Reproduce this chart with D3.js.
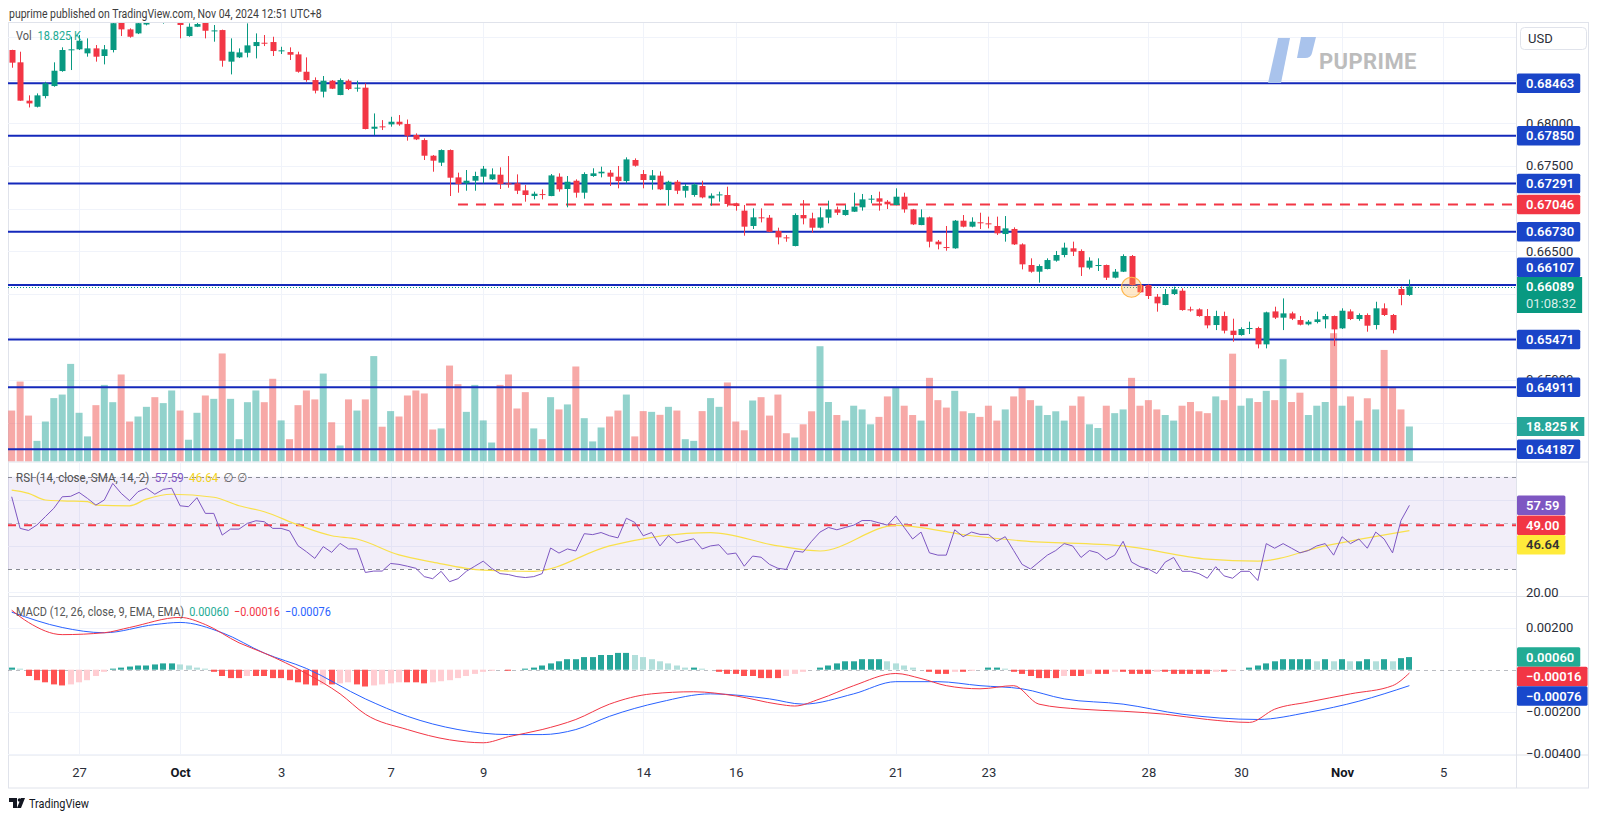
<!DOCTYPE html>
<html><head><meta charset="utf-8">
<script src="https://cdn.jsdelivr.net/npm/d3@7"></script>
<style>html,body{margin:0;padding:0;background:#fff;}svg{display:block;}</style>
</head><body>
<svg id="c" width="1600" height="819"></svg>
<script>
// ---------------- DATA ----------------
const opens = [0.68852,0.68708,0.68260,0.68189,0.68314,0.68431,0.68606,0.68852,0.68860,0.68813,0.68871,0.68782,0.68852,0.69170,0.69093,0.69046,0.69150,0.69260,0.69200,0.69250,0.69220,0.69015,0.69124,0.69180,0.69073,0.69085,0.68716,0.68766,0.68820,0.68898,0.68937,0.68945,0.68840,0.68828,0.68801,0.68598,0.68501,0.68365,0.68493,0.68326,0.68493,0.68404,0.68412,0.67932,0.67960,0.67983,0.68014,0.67987,0.67859,0.67800,0.67617,0.67536,0.67683,0.67364,0.67294,0.67325,0.67372,0.67341,0.67395,0.67294,0.67294,0.67212,0.67146,0.67169,0.67146,0.67372,0.67228,0.67325,0.67185,0.67380,0.67411,0.67419,0.67372,0.67321,0.67567,0.67403,0.67333,0.67384,0.67216,0.67313,0.67208,0.67158,0.67263,0.67119,0.67154,0.67158,0.67060,0.66975,0.66796,0.66897,0.66893,0.66737,0.66663,0.66562,0.66924,0.66885,0.66776,0.66893,0.66990,0.66924,0.66963,0.67014,0.67107,0.67119,0.67080,0.67041,0.67138,0.66990,0.66807,0.66897,0.66613,0.66550,0.66535,0.66858,0.66788,0.66839,0.66827,0.66796,0.66702,0.66761,0.66581,0.66340,0.66262,0.66293,0.66391,0.66457,0.66535,0.66504,0.66309,0.66332,0.66340,0.66192,0.66262,0.66445,0.66106,0.66106,0.65970,0.65873,0.66001,0.66040,0.65822,0.65822,0.65744,0.65639,0.65744,0.65573,0.65522,0.65592,0.65604,0.65413,0.65798,0.65725,0.65775,0.65697,0.65647,0.65674,0.65705,0.65744,0.65600,0.65798,0.65709,0.65756,0.65639,0.65834,0.65756,0.66060,0.65990];
const highs = [0.68855,0.68832,0.68322,0.68345,0.68481,0.68708,0.68883,0.69007,0.69027,0.68988,0.68910,0.68910,0.69210,0.69200,0.69105,0.69200,0.69290,0.69330,0.69390,0.69400,0.69280,0.69163,0.69180,0.69230,0.69144,0.69090,0.68988,0.68871,0.69163,0.69046,0.69027,0.69007,0.68890,0.68883,0.68832,0.68766,0.68532,0.68548,0.68501,0.68520,0.68509,0.68493,0.68462,0.68111,0.68033,0.68072,0.68092,0.68040,0.67878,0.67820,0.67625,0.67691,0.67690,0.67419,0.67450,0.67430,0.67497,0.67469,0.67481,0.67613,0.67399,0.67274,0.67197,0.67224,0.67403,0.67411,0.67380,0.67341,0.67423,0.67470,0.67489,0.67450,0.67497,0.67598,0.67586,0.67450,0.67450,0.67434,0.67325,0.67333,0.67286,0.67294,0.67325,0.67177,0.67197,0.67255,0.67068,0.67041,0.67002,0.67002,0.66924,0.66776,0.66690,0.66943,0.67099,0.66951,0.67014,0.67092,0.67022,0.67041,0.67185,0.67170,0.67158,0.67197,0.67099,0.67236,0.67185,0.66995,0.66990,0.66905,0.66632,0.66796,0.66866,0.66924,0.66897,0.66951,0.66905,0.66905,0.66912,0.66780,0.66593,0.66418,0.66348,0.66418,0.66504,0.66601,0.66613,0.66523,0.66430,0.66418,0.66345,0.66293,0.66465,0.66457,0.66118,0.66114,0.66001,0.66060,0.66087,0.66067,0.65853,0.65834,0.65826,0.65806,0.65795,0.65713,0.65612,0.65678,0.65619,0.65795,0.65853,0.65950,0.65795,0.65744,0.65697,0.65795,0.65768,0.65750,0.65834,0.65822,0.65775,0.65775,0.65911,0.65892,0.65768,0.66090,0.66170];
const lows = [0.68645,0.68258,0.68181,0.68181,0.68287,0.68423,0.68598,0.68618,0.68852,0.68774,0.68716,0.68684,0.68824,0.69015,0.68996,0.69038,0.69140,0.69180,0.69160,0.69210,0.68988,0.69007,0.69120,0.68988,0.68949,0.68657,0.68567,0.68758,0.68766,0.68754,0.68898,0.68782,0.68805,0.68735,0.68587,0.68481,0.68345,0.68298,0.68396,0.68324,0.68384,0.68365,0.67925,0.67858,0.67917,0.67956,0.67967,0.67793,0.67800,0.67567,0.67430,0.67497,0.67146,0.67185,0.67208,0.67208,0.67294,0.67333,0.67228,0.67243,0.67169,0.67080,0.67107,0.67107,0.67144,0.67197,0.67014,0.67127,0.67115,0.67370,0.67364,0.67263,0.67236,0.67294,0.67489,0.67236,0.67220,0.67216,0.67033,0.67169,0.67127,0.67138,0.67119,0.67033,0.67080,0.67021,0.66975,0.66683,0.66761,0.66838,0.66725,0.66581,0.66612,0.66558,0.66815,0.66718,0.66768,0.66827,0.66924,0.66916,0.66960,0.66975,0.67061,0.66975,0.66994,0.67038,0.66951,0.66807,0.66805,0.66546,0.66523,0.66507,0.66530,0.66780,0.66780,0.66761,0.66768,0.66691,0.66613,0.66574,0.66289,0.66250,0.66134,0.66289,0.66379,0.66430,0.66445,0.66212,0.66289,0.66270,0.66165,0.66184,0.66258,0.66100,0.66017,0.65943,0.65795,0.65870,0.65990,0.65806,0.65795,0.65736,0.65600,0.65580,0.65541,0.65444,0.65514,0.65534,0.65366,0.65366,0.65709,0.65580,0.65697,0.65635,0.65635,0.65658,0.65600,0.65393,0.65592,0.65697,0.65689,0.65561,0.65588,0.65744,0.65541,0.65870,0.65980];
const closes = [0.68704,0.68260,0.68228,0.68322,0.68462,0.68610,0.68852,0.68860,0.68961,0.68871,0.68774,0.68860,0.69165,0.69093,0.69007,0.69165,0.69260,0.69200,0.69300,0.69330,0.69144,0.69124,0.69155,0.69077,0.69081,0.68727,0.68832,0.68824,0.68906,0.68945,0.68929,0.68840,0.68848,0.68797,0.68598,0.68501,0.68377,0.68493,0.68400,0.68501,0.68396,0.68412,0.67929,0.67956,0.67952,0.68014,0.67983,0.67851,0.67808,0.67617,0.67559,0.67683,0.67360,0.67286,0.67325,0.67380,0.67465,0.67399,0.67286,0.67286,0.67208,0.67158,0.67173,0.67161,0.67387,0.67224,0.67313,0.67185,0.67403,0.67411,0.67430,0.67372,0.67321,0.67574,0.67500,0.67333,0.67387,0.67224,0.67313,0.67208,0.67263,0.67282,0.67130,0.67150,0.67165,0.67053,0.67029,0.66788,0.66897,0.66889,0.66729,0.66663,0.66655,0.66924,0.66885,0.66776,0.66897,0.66990,0.66951,0.66983,0.67022,0.67107,0.67115,0.67080,0.67049,0.67138,0.66990,0.66815,0.66897,0.66613,0.66581,0.66543,0.66858,0.66788,0.66846,0.66831,0.66815,0.66710,0.66768,0.66581,0.66348,0.66262,0.66328,0.66398,0.66457,0.66543,0.66496,0.66313,0.66391,0.66340,0.66192,0.66262,0.66445,0.66106,0.66021,0.65978,0.65892,0.66001,0.66056,0.65814,0.65814,0.65744,0.65635,0.65744,0.65573,0.65522,0.65592,0.65604,0.65413,0.65787,0.65725,0.65775,0.65713,0.65643,0.65678,0.65705,0.65744,0.65588,0.65806,0.65709,0.65756,0.65631,0.65834,0.65756,0.65580,0.65990,0.66089];
const volumesK = [27.4,43.0,24.7,11.1,21.5,34.1,36.0,52.5,26.2,13.5,30.3,41.2,31.9,46.8,21.5,24.2,29.4,34.6,31.4,38.2,27.4,11.7,26.2,35.5,33.7,58.1,33.7,12.0,31.9,38.2,31.9,44.5,22.1,12.0,30.3,38.2,33.4,47.3,21.1,8.6,33.4,27.4,33.4,56.7,18.7,27.1,24.2,35.5,38.2,36.6,17.2,17.8,51.6,41.6,26.7,41.2,22.1,10.2,41.2,46.8,28.5,37.3,17.8,12.0,34.6,28.0,30.7,51.1,23.3,10.8,18.3,24.2,27.4,36.0,13.5,27.1,26.7,25.1,29.4,27.4,12.0,11.1,27.1,34.1,29.4,42.5,21.5,16.8,32.8,34.6,24.7,36.0,15.2,12.9,
20,27,62,32,25,22,30,28,20,24,35,40,30,25,22,45,33,29,38,27,26,24,30,22,28,35,40,33,30,25,27,22,30,35,20,18,30,26,28,45,30,33,28,25,22,30,32,27,26,35,33,58,30,34,32,38,33,55,32,37,25,30,32,69,30,35,22,34,28,60,40,28,18.825];
const rsiValues = [61.3,47.6,46.7,49.1,52.7,56.3,61.3,61.5,63.2,60.6,57.7,59.9,67.1,62.8,59.6,63.5,65.0,62.4,64.5,65.0,57.4,57.0,60.9,54.1,54.1,44.7,47.3,47.3,49.8,50.9,50.5,47.6,47.6,46.5,40.1,37.5,34.6,39.7,37.2,41.1,38.7,38.7,28.5,29.1,29.1,32.4,32.0,
31.2,30.3,26.7,25.8,29,24.5,25.8,29,31.2,33.4,30.3,28,27.6,26.7,26.3,26.7,28,39.1,36.9,38.7,37.8,45.3,44.9,45.8,44.4,43.5,52,50.2,44.4,45.8,40,44.4,41.3,42.2,43.1,38.7,40,40.5,36.4,36.9,31.2,35.6,35.1,32,30.3,29.8,37.8,37.3,
42,46,48,47,48,49,51,51,50,49,53,48,43,46,37,36,36,47,44,46,45,45,42,44,38,32,30,33,36,38,41,40,35,38,37,34,36,42,33,31,30,28,33,35,29,29,28,26,31,27,26,29,29,25,41,39,41,39,37,38,40,41,36,44,41,43,39,46,43,37,51,57.59];
const rsiSmaPts = [[0,64.2],[2,62.8],[4,59.9],[6,59.5],[9,59.2],[10,57.7],[14,57.4],[16,60.3],[19,62.4],[24,61.1],[27,57.4],[30,54.8],[34,49.1],[38,44.4],[41,43.0],[46,36.1],[50,33],[56,29.5],[62,29],[71,40],[83,45.8],[91,40],[96,37.8],[105,48.9],[114,44.4],[120,42.2],[132,40],[142,34.3],[148,33.4],[156,40],[166,46.64]];
const macdPts = [[0,0.00283],[2,0.00225],[6,0.00167],[11,0.00176],[14,0.00201],[20,0.00249],[23,0.00215],[27,0.00128],[30,0.00079],[35,-0.00018],[39,-0.00115],[42,-0.00212],[47,-0.00285],[52,-0.00334],[56,-0.00348],[59,-0.00319],[63,-0.00285],[67,-0.00237],[71,-0.00164],[76,-0.00115],[81,-0.00105],[86,-0.00125],[91,-0.00164],[93,-0.00173],[96,-0.00139],[100,-0.00076],[105,-0.00018],[108,-0.00042],[111,-0.00076],[115,-0.00091],[119,-0.00076],[122,-0.00164],[127,-0.00188],[132,-0.00198],[137,-0.00212],[142,-0.00237],[147,-0.00251],[150,-0.00188],[154,-0.00154],[159,-0.00115],[164,-0.00076],[166,-0.00016]];
const signalPts = [[0,0.00274],[6,0.00201],[11,0.00176],[17,0.00215],[20,0.00225],[25,0.00176],[30,0.00079],[35,0.00006],[42,-0.00139],[47,-0.00222],[53,-0.00285],[59,-0.00309],[63,-0.00309],[67,-0.00285],[71,-0.00222],[77,-0.00154],[83,-0.00115],[90,-0.00139],[94,-0.00164],[100,-0.00115],[105,-0.00057],[110,-0.00057],[115,-0.00076],[120,-0.00091],[125,-0.00139],[132,-0.00164],[139,-0.00212],[148,-0.00237],[154,-0.00203],[160,-0.00150],[166,-0.00076]];
const histValues = [0.0001,0.00005,-0.0003,-0.0005,-0.0006,-0.0007,-0.00075,-0.0007,-0.0006,-0.0005,-0.0003,-0.0001,0.00005,0.0001,0.00015,0.0002,0.0002,0.00025,0.0003,0.0003,0.00025,0.0002,0.0001,0.00005,-0.0001,-0.0003,-0.0004,-0.0004,-0.0003,-0.0003,-0.0003,-0.0004,-0.0004,-0.0005,-0.0006,-0.0007,-0.00075,-0.0007,-0.0007,-0.00065,-0.0006,-0.0007,-0.0008,-0.00075,-0.0007,-0.00065,-0.0006,-0.0006,-0.0006,-0.00065,-0.0006,-0.00055,-0.0005,-0.0004,-0.0003,-0.0002,-0.0001,-0.00005,0,-0.00005,0,0.00005,0.0001,0.0002,0.0003,0.0004,0.0005,0.0005,0.0006,0.0006,0.0007,0.0007,0.0008,0.0008,0.0007,0.0006,0.0005,0.0004,0.0003,0.0002,0.0001,0.0001,0.00005,0,-0.0001,-0.0002,-0.0002,-0.0003,-0.0003,-0.0004,-0.0004,-0.0004,-0.0003,-0.0002,-0.0001,0,0.0001,0.0002,0.0003,0.0004,0.0004,0.0005,0.0005,0.0005,0.0004,0.0003,0.0002,0.0001,0,-0.0001,-0.0002,-0.0002,-0.0001,-0.0001,-0.00005,0,0.0001,0.0001,0.00005,-0.0001,-0.0002,-0.0003,-0.0004,-0.0004,-0.0004,-0.0003,-0.0003,-0.0003,-0.0002,-0.0002,-0.0002,-0.0001,-0.0001,-0.0002,-0.0002,-0.0002,-0.0001,-0.0001,-0.0002,-0.0002,-0.0002,-0.0002,-0.0002,-0.0001,-0.0001,-0.00005,0,0.0001,0.0002,0.0003,0.0004,0.0005,0.0005,0.0005,0.0005,0.0004,0.0005,0.0004,0.0005,0.0004,0.0004,0.0005,0.0004,0.0005,0.0004,0.00055,0.0006];
const levelPrices = [0.68463,0.67850,0.67291,0.66730,0.66107,0.65471,0.64911,0.64187];
const dashedLevel = {price:0.67046, fromIndex:53};
const lastPrice = 0.66089, countdown = "01:08:32";
const lastVolumeLabel = "18.825 K";
const highlight = {index:133, price:0.66080};
const rsiUserLine = 49.00;
const rsiLast = 57.59, rsiSmaLast = 46.64;
const macdLast = {hist:0.00060, macd:-0.00016, signal:-0.00076};
const dateTickIndex = [8,20,32,45,56,75,86,105,116,135,146,158,170];
const dateTickLabels = ["27","Oct","3","7","9","14","16","21","23","28","30","Nov","5"];
const priceGrid = [0.690,0.685,0.680,0.675,0.670,0.665,0.660,0.655,0.650,0.645];
const priceTickLabels = [0.680,0.675,0.665,0.650];
const rsiGrid = [60,40,20];
const rsiTickLabels = [20];
const macdGrid = [0.002,-0.002,-0.004];
const macdTickLabels = [0.002,-0.002,-0.004];
const headerText = "puprime published on TradingView.com, Nov 04, 2024 12:51 UTC+8";

// ---------------- LAYOUT ----------------
const FONT = 'Roboto, "Open Sans", "DejaVu Sans", sans-serif';
const L = 8, R = 1516, RIGHT_EDGE = 1588;
const MAIN = {top:23, bot:461.5}, RSIP = {top:462.5, bot:596}, MACDP = {top:597, bot:755}, AXB = 788;
const UP = "#089981", DN = "#F23645";
const BLUE_LINE = "#1429bb", BLUE_LBL = "#1a45c8";

const svg = d3.select("#c").style("font-family", FONT);
const defs = svg.append("defs");
function clip(id, y0, y1){ defs.append("clipPath").attr("id",id).append("rect").attr("x",L).attr("y",y0).attr("width",R-L).attr("height",y1-y0); }
clip("cMain", MAIN.top, MAIN.bot); clip("cRsi", RSIP.top, RSIP.bot); clip("cMacd", MACDP.top, MACDP.bot);

function legend(x0, y0, width, size){
  const g = svg.append("g");
  const t = g.append("text").attr("x",0).attr("y",0).attr("font-size",size);
  return {t, fit(){ const w=t.node().getComputedTextLength(); g.attr("transform",`translate(${x0},${y0}) scale(${width/w},1)`); }};
}

const n = closes.length;
const x = d3.scaleLinear().domain([0,166]).range([11.7, 1409.4]);
const yP = d3.scaleLinear().domain([0.64187,0.68463]).range([449.3,83.3]);
const yV = d3.scaleLinear().domain([0,18.825]).range([461.5,426.5]);
const yR = d3.scaleLinear().domain([30,70]).range([569,476.7]);
const yM = d3.scaleLinear().domain([-0.002,0.002]).range([711.7,627.7]);

{ const h = legend(9, 18, 313, 13); h.t.attr("fill","#3d3d3d").text(headerText); h.fit(); }

const frame = svg.append("g").attr("stroke","#e0e3eb").attr("fill","none");
frame.append("rect").attr("x",L+0.5).attr("y",MAIN.top-0.5).attr("width",RIGHT_EDGE-L).attr("height",AXB-MAIN.top+0.5);
[RSIP.top-0.5, MACDP.top-0.5, MACDP.bot].forEach(v=>frame.append("line").attr("x1",L).attr("x2",RIGHT_EDGE).attr("y1",v).attr("y2",v));
frame.append("line").attr("x1",R+0.5).attr("x2",R+0.5).attr("y1",MAIN.top).attr("y2",AXB);

const grid = svg.append("g").attr("stroke","#f0f3fa").attr("stroke-width",1);
dateTickIndex.forEach(i=>{ const xx=Math.round(x(i))+0.5; if(xx<R) grid.append("line").attr("x1",xx).attr("x2",xx).attr("y1",MAIN.top).attr("y2",MACDP.bot); });
const gMain = svg.append("g").attr("clip-path","url(#cMain)");
priceGrid.forEach(p=>{ const yy=Math.round(yP(p))+0.5; gMain.append("line").attr("x1",L).attr("x2",R).attr("y1",yy).attr("y2",yy).attr("stroke","#f0f3fa"); });
const gR = svg.append("g").attr("clip-path","url(#cRsi)");
rsiGrid.forEach(v=>{ const yy=Math.round(yR(v))+0.5; gR.append("line").attr("x1",L).attr("x2",R).attr("y1",yy).attr("y2",yy).attr("stroke","#f0f3fa"); });
const gM = svg.append("g").attr("clip-path","url(#cMacd)");
macdGrid.forEach(v=>{ const yy=Math.round(yM(v))+0.5; gM.append("line").attr("x1",L).attr("x2",R).attr("y1",yy).attr("y2",yy).attr("stroke","#f0f3fa"); });

const wm = svg.append("g");
wm.append("path").attr("d","M1278,38 L1290,38 L1281,83 L1268,83 Z").attr("fill","#a9c3ec");
wm.append("path").attr("d","M1301,37 L1316,37 L1312,53 Q1311,58 1305,58 L1297,58 Z").attr("fill","#a9c3ec");
wm.append("text").attr("x",1319).attr("y",68.5).attr("font-size",22).attr("font-weight",700).attr("fill","#bcbcbc").attr("letter-spacing",0.4).text("PUPRIME");

const idx = d3.range(n);
const isUp = i => closes[i] >= opens[i];
gMain.append("g").selectAll("rect").data(idx).join("rect")
  .attr("x", i=>x(i)-3.5).attr("width",7)
  .attr("y", i=>yV(volumesK[i])).attr("height", i=>yV(0)-yV(volumesK[i]))
  .attr("fill", i=> isUp(i) ? "rgba(38,166,154,0.5)" : "rgba(239,83,80,0.5)");

const lv = gMain.append("g");
levelPrices.forEach(p=>lv.append("line").attr("x1",L).attr("x2",R).attr("y1",yP(p)).attr("y2",yP(p)).attr("stroke",BLUE_LINE).attr("stroke-width",2));
lv.append("line").attr("x1",x(dashedLevel.fromIndex)).attr("x2",R).attr("y1",yP(dashedLevel.price)).attr("y2",yP(dashedLevel.price))
  .attr("stroke",DN).attr("stroke-width",2).attr("stroke-dasharray","10 8");
lv.append("line").attr("x1",L).attr("x2",R).attr("y1",Math.round(yP(lastPrice))+0.5).attr("y2",Math.round(yP(lastPrice))+0.5)
  .attr("stroke",UP).attr("stroke-width",1).attr("stroke-dasharray","1 2");

const cg = gMain.append("g");
cg.selectAll("line").data(idx).join("line")
  .attr("x1",i=>Math.round(x(i))+0.5).attr("x2",i=>Math.round(x(i))+0.5)
  .attr("y1",i=>yP(highs[i])).attr("y2",i=>yP(lows[i]))
  .attr("stroke",i=>isUp(i)?UP:DN).attr("stroke-width",1);
cg.selectAll("rect").data(idx).join("rect")
  .attr("x",i=>Math.round(x(i))-2.5).attr("width",6)
  .attr("y",i=>yP(Math.max(opens[i],closes[i])))
  .attr("height",i=>Math.max(1,Math.abs(yP(opens[i])-yP(closes[i]))))
  .attr("fill",i=>isUp(i)?UP:DN);

gMain.append("circle").attr("cx",x(highlight.index)).attr("cy",yP(highlight.price)).attr("r",10)
  .attr("fill","rgba(255,183,77,0.3)").attr("stroke","#ffb74d").attr("stroke-width",1.2);

{ const v = legend(16, 39.5, 59, 13);
  v.t.append("tspan").attr("fill","#555").text("Vol");
  v.t.append("tspan").attr("dx",7).attr("fill","#22ab94").text(lastVolumeLabel); v.fit(); }

// RSI
gR.append("rect").attr("x",L).attr("width",R-L).attr("y",yR(70)).attr("height",yR(30)-yR(70)).attr("fill","rgba(126,87,194,0.1)");
[70,30].forEach(v=>gR.append("line").attr("x1",L).attr("x2",R).attr("y1",Math.round(yR(v))+0.5).attr("y2",Math.round(yR(v))+0.5).attr("stroke","#878a94").attr("stroke-dasharray","4 4"));
gR.append("line").attr("x1",L).attr("x2",R).attr("y1",Math.round(yR(50))+0.5).attr("y2",Math.round(yR(50))+0.5).attr("stroke","rgba(120,123,134,0.45)").attr("stroke-dasharray","4 4");
gR.append("line").attr("x1",L).attr("x2",R).attr("y1",yR(rsiUserLine)).attr("y2",yR(rsiUserLine)).attr("stroke",DN).attr("stroke-width",2).attr("stroke-dasharray","8 8");
gR.append("path").datum(rsiSmaPts).attr("fill","none").attr("stroke","#f9e04b").attr("stroke-width",1.2)
  .attr("d", d3.line().x(d=>x(d[0])).y(d=>yR(d[1])).curve(d3.curveMonotoneX));
gR.append("path").datum(idx).attr("fill","none").attr("stroke","#7E57C2").attr("stroke-width",1)
  .attr("d", d3.line().x(i=>x(i)).y(i=>yR(rsiValues[i])));
{ const r = legend(16, 481.5, 212, 13);
  r.t.append("tspan").attr("fill","#555").text("RSI (14, close, SMA, 14, 2)");
  r.t.append("tspan").attr("dx",6).attr("fill","#7E57C2").text(rsiLast.toFixed(2));
  r.t.append("tspan").attr("dx",6).attr("fill","#f2d21b").text(rsiSmaLast.toFixed(2));
  r.t.append("tspan").attr("dx",6).attr("fill","#666").text("∅");
  r.t.append("tspan").attr("dx",4).attr("fill","#666").text("∅"); r.fit(); }

// MACD
const fmt5 = d3.format(".5f");
const minusFmt = v => fmt5(v).replace("-","−");
gM.append("line").attr("x1",L).attr("x2",R).attr("y1",Math.round(yM(0))+0.5).attr("y2",Math.round(yM(0))+0.5).attr("stroke","rgba(120,123,134,0.5)").attr("stroke-dasharray","4 4");
gM.append("g").selectAll("rect").data(idx).join("rect")
  .attr("x",i=>Math.round(x(i))-3).attr("width",6)
  .attr("y",i=>Math.min(yM(0),yM(histValues[i])))
  .attr("height",i=>Math.abs(yM(histValues[i])-yM(0)))
  .attr("fill",i=>{ const h=histValues[i], p=i>0?histValues[i-1]:h;
     return h>=0 ? (h>=p? "#26A69A":"#B2DFDB") : (h<=p? "#FF5252":"#FFCDD2"); });
gM.append("path").datum(signalPts).attr("fill","none").attr("stroke","#2962FF").attr("stroke-width",1)
  .attr("d", d3.line().x(d=>x(d[0])).y(d=>yM(d[1])).curve(d3.curveMonotoneX));
gM.append("path").datum(macdPts).attr("fill","none").attr("stroke","#F23645").attr("stroke-width",1)
  .attr("d", d3.line().x(d=>x(d[0])).y(d=>yM(d[1])).curve(d3.curveMonotoneX));
{ const m = legend(16, 615.5, 300, 13);
  m.t.append("tspan").attr("fill","#555").text("MACD (12, 26, close, 9, EMA, EMA)");
  m.t.append("tspan").attr("dx",6).attr("fill","#22ab94").text(minusFmt(macdLast.hist));
  m.t.append("tspan").attr("dx",6).attr("fill",DN).text(minusFmt(macdLast.macd));
  m.t.append("tspan").attr("dx",6).attr("fill","#2962FF").text(minusFmt(macdLast.signal)); m.fit(); }

// axes
function styleAxis(g){ g.select(".domain").remove(); g.selectAll("text").attr("font-family",FONT).attr("font-size",13).attr("fill","#2a2e39"); }
svg.append("g").attr("transform",`translate(${R+10},0)`).call(d3.axisRight(yP).tickValues(priceTickLabels).tickSize(0).tickPadding(0).tickFormat(minusFmt)).call(styleAxis);
svg.append("g").attr("transform",`translate(${R+10},0)`).call(d3.axisRight(yR).tickValues(rsiTickLabels).tickSize(0).tickPadding(0).tickFormat(d3.format(".2f"))).call(styleAxis);
svg.append("g").attr("transform",`translate(${R+10},0)`).call(d3.axisRight(yM).tickValues(macdTickLabels).tickSize(0).tickPadding(0).tickFormat(minusFmt)).call(styleAxis);
const xa = svg.append("g").attr("transform",`translate(0,${MACDP.bot+10})`)
  .call(d3.axisBottom(x).tickValues(dateTickIndex).tickSize(0).tickPadding(0).tickFormat((d,i)=>dateTickLabels[i])).call(styleAxis);
xa.selectAll("text").attr("dy","0.9em").attr("font-weight",(d,i)=>/[A-Za-z]/.test(dateTickLabels[i])?700:400).attr("fill",(d,i)=>/[A-Za-z]/.test(dateTickLabels[i])?"#131722":"#2a2e39");

svg.append("rect").attr("x",1520.5).attr("y",27.5).attr("width",66).attr("height",22).attr("rx",4).attr("fill","#fff").attr("stroke","#e0e3eb");
svg.append("text").attr("x",1528).attr("y",43).attr("font-size",13).attr("fill","#2a2e39").text("USD");

function tag(cy, txt, fill, color, h){
  h = h || 19.5;
  const g = svg.append("g");
  const r = g.append("rect").attr("x",R+1).attr("y",cy-h/2).attr("height",h).attr("rx",1.5).attr("fill",fill);
  const t = g.append("text").attr("x",R+10).attr("y",cy+4.6).attr("font-size",13).attr("font-weight",600).attr("fill",color).text(txt);
  r.attr("width", t.node().getComputedTextLength()+15);
  return g;
}
function fitTags(list){
  list.sort((a,b)=>a.y-b.y);
  for(let k=1;k<list.length;k++){ const prev=list[k-1]; if(list[k].y-prev.y<19.5) list[k].y=prev.y+19.5; }
  list.forEach(t=>tag(t.y,t.txt,t.fill,t.color));
}
const yLast = yP(lastPrice);
levelPrices.forEach(p=>{ let cy=yP(p); if(Math.abs(p-lastPrice)<0.0005) cy = yLast-9.5-9.75; tag(cy, fmt5(p), BLUE_LBL, "#fff"); });
tag(yP(dashedLevel.price), fmt5(dashedLevel.price), DN, "#fff");
{ const g=svg.append("g");
  const r=g.append("rect").attr("x",R+1).attr("y",yLast-9.5).attr("height",36).attr("fill",UP);
  g.append("text").attr("x",R+10).attr("y",yLast+4.6).attr("font-size",13).attr("font-weight",600).attr("fill","#fff").text(fmt5(lastPrice));
  const t2=g.append("text").attr("x",R+10).attr("y",yLast+21.5).attr("font-size",13).attr("fill","rgba(255,255,255,0.85)").text(countdown);
  r.attr("width", t2.node().getComputedTextLength()+15); }
{ const g=svg.append("g"); const cy=yV(18.825);
  const r=g.append("rect").attr("x",R+1).attr("y",cy-9.5).attr("height",19).attr("fill","#26a69a");
  const t=g.append("text").attr("x",R+10).attr("y",cy+4.6).attr("font-size",13).attr("font-weight",600).attr("fill","#fff").text(lastVolumeLabel);
  r.attr("width", t.node().getComputedTextLength()+15); }
fitTags([{y:yR(rsiLast),txt:rsiLast.toFixed(2),fill:"#7E57C2",color:"#fff"},{y:yR(rsiUserLine),txt:rsiUserLine.toFixed(2),fill:DN,color:"#fff"},{y:yR(rsiSmaLast),txt:rsiSmaLast.toFixed(2),fill:"#ffeb3b",color:"#333"}]);
fitTags([{y:yM(macdLast.hist),txt:minusFmt(macdLast.hist),fill:"#22ab94",color:"#fff"},{y:yM(macdLast.macd),txt:minusFmt(macdLast.macd),fill:DN,color:"#fff"},{y:yM(macdLast.signal),txt:minusFmt(macdLast.signal),fill:"#1848cc",color:"#fff"}]);

const fl = svg.append("g");
fl.append("path").attr("d","M9,798 h8 v10 h-4 v-6 h-4 Z").attr("fill","#131722");
fl.append("circle").attr("cx",19.5).attr("cy",800).attr("r",1.8).attr("fill","#131722");
fl.append("path").attr("d","M21,798 h4 l-4,10 h-4 Z").attr("fill","#131722");
{ const f = legend(29, 807.5, 60, 12); f.t.attr("fill","#131722").text("TradingView"); f.fit(); }
</script>
</body></html>
